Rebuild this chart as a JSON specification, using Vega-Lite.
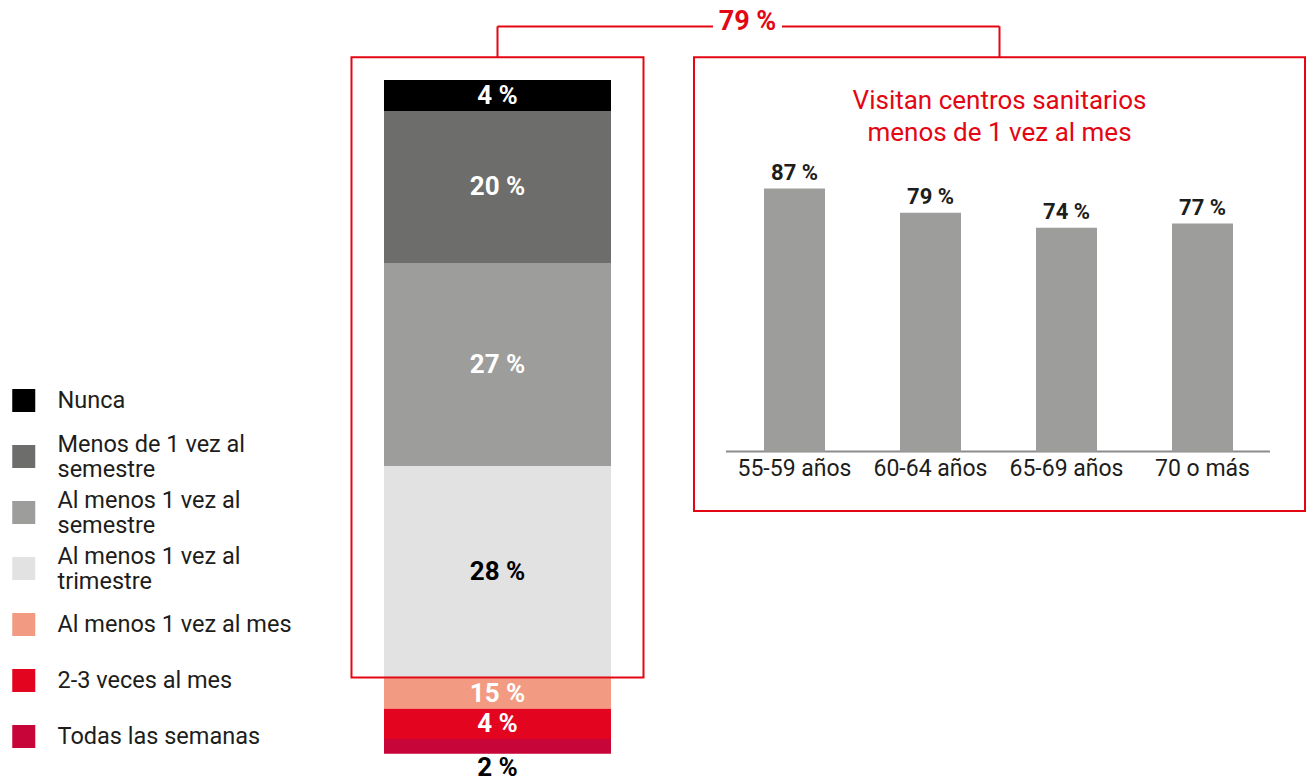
{
  "$schema": "https://vega.github.io/schema/vega-lite/v6.json",
  "width": 1309,
  "height": 778,
  "autosize": {"type": "none"},
  "padding": 0,
  "background": "white",
  "config": {
    "view": {"stroke": null},
    "font": "Roboto"
  },
  "datasets": {
    "frecuencia": [
      {"categoria": "Nunca", "orden": 7, "etiqueta": "4 %", "altura": 4.6},
      {"categoria": "Menos de 1 vez al semestre", "orden": 6, "etiqueta": "20 %", "altura": 22.56},
      {"categoria": "Al menos 1 vez al semestre", "orden": 5, "etiqueta": "27 %", "altura": 30.13},
      {"categoria": "Al menos 1 vez al trimestre", "orden": 4, "etiqueta": "28 %", "altura": 31.51},
      {"categoria": "Al menos 1 vez al mes", "orden": 3, "etiqueta": "15 %", "altura": 4.51},
      {"categoria": "2-3 veces al mes", "orden": 2, "etiqueta": "4 %", "altura": 4.5},
      {"categoria": "Todas las semanas", "orden": 1, "etiqueta": "2 %", "altura": 2.18}
    ],
    "edades": [
      {"grupo": "55-59 años", "etiqueta": "87 %", "altura": 87},
      {"grupo": "60-64 años", "etiqueta": "79 %", "altura": 79},
      {"grupo": "65-69 años", "etiqueta": "74 %", "altura": 74},
      {"grupo": "70 o más", "etiqueta": "77 %", "altura": 75.4}
    ]
  },
  "layer": [
    {
      "layer": [
        {
          "data": {"name": "frecuencia"},
          "transform": [
            {"stack": "altura", "groupby": [], "sort": [{"field": "orden", "order": "ascending"}], "as": ["y0", "y1"]}
          ],
          "mark": {"type": "rect"},
          "encoding": {
            "x": {"datum": 0, "type": "quantitative", "scale": {"domain": [-1.6916, 4.0749], "nice": false, "zero": false}, "axis": null},
            "x2": {"datum": 1},
            "y": {"field": "y0", "type": "quantitative", "scale": {"domain": [-3.607, 111.875], "nice": false, "zero": false}, "axis": null},
            "y2": {"field": "y1"},
            "color": {
              "field": "categoria",
              "type": "nominal",
              "scale": {
                "domain": ["Nunca", "Menos de 1 vez al semestre", "Al menos 1 vez al semestre", "Al menos 1 vez al trimestre", "Al menos 1 vez al mes", "2-3 veces al mes", "Todas las semanas"],
                "range": ["#000000", "#6d6d6b", "#9d9d9c", "#e2e2e2", "#f29b82", "#e30520", "#c70538"]
              },
              "legend": {
                "title": null,
                "orient": "none",
                "legendX": 12,
                "legendY": 372.5,
                "padding": 0,
                "symbolType": "square",
                "symbolSize": 529,
                "symbolStrokeWidth": 0,
                "symbolOpacity": 1,
                "labelFont": "Roboto",
                "labelFontSize": 23.5,
                "labelColor": "#1d1d1b",
                "labelOffset": 22,
                "labelLimit": 400,
                "clipHeight": 56,
                "rowPadding": 0,
                "labelExpr": "datum.label === 'Menos de 1 vez al semestre' ? ['Menos de 1 vez al', 'semestre'] : datum.label === 'Al menos 1 vez al semestre' ? ['Al menos 1 vez al', 'semestre'] : datum.label === 'Al menos 1 vez al trimestre' ? ['Al menos 1 vez al', 'trimestre'] : datum.label",
                "encode": {
                  "labels": {
                    "update": {
                      "dy": {"signal": "length(datum.label) > 21 ? -12 : 0"}
                    }
                  }
                }
              }
            }
          }
        },
        {
          "data": {"name": "frecuencia"},
          "transform": [
            {"stack": "altura", "groupby": [], "sort": [{"field": "orden", "order": "ascending"}], "as": ["y0", "y1"]},
            {"filter": "datum.orden > 1"},
            {"fold": ["y0", "y1"], "as": ["borde", "pos"]},
            {"aggregate": [{"op": "mean", "field": "pos", "as": "centro"}], "groupby": ["categoria", "etiqueta"]}
          ],
          "mark": {"type": "text", "fontSize": 26, "fontWeight": "bold", "baseline": "middle", "align": "center"},
          "encoding": {
            "x": {"datum": 0.5, "type": "quantitative", "axis": null},
            "y": {"field": "centro", "type": "quantitative", "axis": null},
            "text": {"field": "etiqueta"},
            "color": {"condition": {"test": "datum.categoria === 'Al menos 1 vez al trimestre'", "value": "#000000"}, "value": "#ffffff"}
          }
        },
        {
          "data": {"name": "frecuencia"},
          "transform": [{"filter": "datum.orden === 1"}],
          "mark": {"type": "text", "fontSize": 26, "fontWeight": "bold", "baseline": "top", "align": "center", "dy": 1, "color": "#000000"},
          "encoding": {
            "x": {"datum": 0.5, "type": "quantitative", "axis": null},
            "y": {"datum": 0, "type": "quantitative", "axis": null},
            "text": {"field": "etiqueta"}
          }
        },
        {
          "data": {"values": [{}]},
          "mark": {"type": "rect", "fill": null, "stroke": "#e30613", "strokeWidth": 2},
          "encoding": {
            "x": {"datum": -0.1432, "type": "quantitative", "axis": null},
            "x2": {"datum": 1.1432},
            "y": {"datum": 11.3, "type": "quantitative", "axis": null},
            "y2": {"datum": 103.37}
          }
        },
        {
          "data": {"values": [{}]},
          "mark": {"type": "rect", "fill": null, "stroke": "#e30613", "strokeWidth": 2},
          "encoding": {
            "x": {"datum": 1.3656, "type": "quantitative", "axis": null},
            "x2": {"datum": 4.0573},
            "y": {"datum": 36.03, "type": "quantitative", "axis": null},
            "y2": {"datum": 103.37}
          }
        },
        {
          "data": {"values": [{}]},
          "mark": {"type": "rule", "color": "#e30613", "strokeWidth": 2},
          "encoding": {
            "x": {"datum": 0.5, "type": "quantitative", "axis": null},
            "y": {"datum": 103.37, "type": "quantitative", "axis": null},
            "y2": {"datum": 107.96}
          }
        },
        {
          "data": {"values": [{}]},
          "mark": {"type": "rule", "color": "#e30613", "strokeWidth": 2},
          "encoding": {
            "x": {"datum": 2.7115, "type": "quantitative", "axis": null},
            "y": {"datum": 103.37, "type": "quantitative", "axis": null},
            "y2": {"datum": 107.96}
          }
        },
        {
          "data": {"values": [{}]},
          "mark": {"type": "rule", "color": "#e30613", "strokeWidth": 2},
          "encoding": {
            "x": {"datum": 0.5, "type": "quantitative", "axis": null},
            "x2": {"datum": 1.4493},
            "y": {"datum": 107.96, "type": "quantitative", "axis": null}
          }
        },
        {
          "data": {"values": [{}]},
          "mark": {"type": "rule", "color": "#e30613", "strokeWidth": 2},
          "encoding": {
            "x": {"datum": 1.7533, "type": "quantitative", "axis": null},
            "x2": {"datum": 2.7115},
            "y": {"datum": 107.96, "type": "quantitative", "axis": null}
          }
        },
        {
          "data": {"values": [{}]},
          "mark": {"type": "text", "fontSize": 27, "fontWeight": "bold", "color": "#e30613", "baseline": "middle", "align": "center"},
          "encoding": {
            "x": {"datum": 1.6013, "type": "quantitative", "axis": null},
            "y": {"datum": 108.6, "type": "quantitative", "axis": null},
            "text": {"value": "79 %"}
          }
        },
        {
          "data": {"values": [{}]},
          "mark": {"type": "text", "fontSize": 26, "color": "#e30613", "baseline": "middle", "align": "center", "lineHeight": 32},
          "encoding": {
            "x": {"datum": 2.7115, "type": "quantitative", "axis": null},
            "y": {"datum": 96.88, "type": "quantitative", "axis": null},
            "text": {"value": ["Visitan centros sanitarios", "menos de 1 vez al mes"]}
          }
        },
        {
          "data": {"values": [{}]},
          "mark": {"type": "rule", "color": "#8c8c8c", "strokeWidth": 2},
          "encoding": {
            "x": {"datum": 1.5066, "type": "quantitative", "axis": null},
            "x2": {"datum": 3.9031},
            "y": {"datum": 44.86, "type": "quantitative", "axis": null}
          }
        }
      ]
    },
    {
      "data": {"name": "edades"},
      "encoding": {
        "x": {
          "field": "grupo",
          "type": "nominal",
          "sort": null,
          "scale": {"range": [764, 1233], "paddingInner": 0.5515, "paddingOuter": 0},
          "axis": {
            "title": null,
            "orient": "bottom",
            "offset": -326.5,
            "domain": false,
            "ticks": false,
            "grid": false,
            "labelAngle": 0,
            "labelPadding": 6,
            "labelFont": "Roboto",
            "labelFontSize": 23,
            "labelColor": "#1d1d1b"
          }
        },
        "y": {"field": "altura", "type": "quantitative", "scale": {"domain": [-108.0, 149.36], "nice": false, "zero": false}, "axis": null}
      },
      "layer": [
        {
          "mark": {"type": "bar", "color": "#9d9d9c"},
          "encoding": {"y2": {"datum": 0}}
        },
        {
          "mark": {"type": "text", "fontSize": 22, "fontWeight": "bold", "baseline": "alphabetic", "align": "center", "dy": -8.5, "color": "#1d1d1b"},
          "encoding": {"text": {"field": "etiqueta"}}
        }
      ]
    }
  ],
  "resolve": {"scale": {"x": "independent", "y": "independent"}}
}
